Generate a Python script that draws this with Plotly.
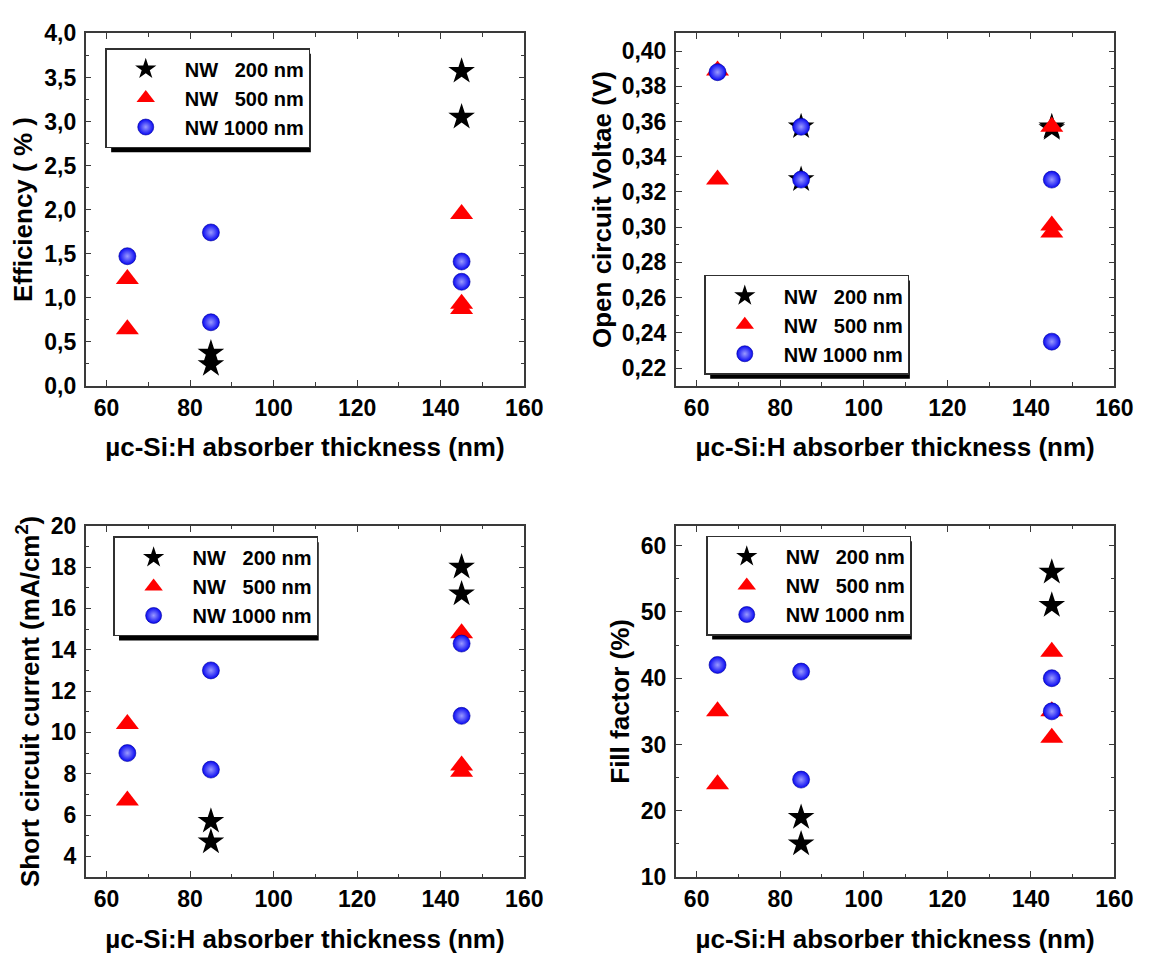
import plotly.graph_objects as go

# ---------------- data ----------------
series_names = ["NW\u00a0\u00a0\u00a0200 nm", "NW\u00a0\u00a0\u00a0500 nm", "NW 1000 nm"]

thick_200 = [85, 85, 145, 145]
thick_500 = [65, 65, 145, 145, 145]
thick_1000 = [65, 85, 85, 145, 145]

eff_200 = [0.37, 0.24, 3.57, 3.05]
eff_500 = [1.21, 0.64, 1.95, 0.93, 0.87]
eff_1000 = [1.47, 1.74, 0.72, 1.41, 1.18]

voc_200 = [0.357, 0.327, 0.357, 0.356]
voc_500 = [0.389, 0.327, 0.357, 0.301, 0.297]
voc_1000 = [0.388, 0.357, 0.327, 0.327, 0.235]

jsc_200 = [5.7, 4.7, 18.0, 16.7]
jsc_500 = [10.4, 6.7, 14.8, 8.4, 8.1]
jsc_1000 = [9.0, 13.0, 8.2, 14.3, 10.8]

ff_200 = [19, 15, 56, 51]
ff_500 = [35, 24, 44, 35, 31]
ff_1000 = [42, 41, 24.7, 40, 35]

x_title = "µc-Si:H absorber thickness (nm)"
y_titles = ["Efficiency ( % )", "Open circuit Voltae (V)",
            "Short circuit current (mA/cm<sup>2</sup>)", "Fill factor (%)"]

# ---------------- layout helpers ----------------
W, H = 1161, 963
FONT = "Liberation Sans, Arial, sans-serif"


def fx(p):
    return p / W


def fy(p):
    return 1 - p / H


col_dom = [[fx(87), fx(533)], [fx(687), fx(1133)]]
row_dom = [[fy(383), fy(21)], [fy(888), fy(527)]]

panels = [
    dict(data=(eff_200, eff_500, eff_1000), rng=[0, 4.0], dtick=0.5, minor=0.25, fmt=".1f",
         col=0, row=0, legpos=(107, 36), standoff=4),
    dict(data=(voc_200, voc_500, voc_1000), rng=[0.21, 0.41], dtick=0.02, minor=0.01, fmt=".2f",
         col=1, row=0, legpos=(716, 269), standoff=3),
    dict(data=(jsc_200, jsc_500, jsc_1000), rng=[3, 20], dtick=2, minor=1, fmt="d",
         col=0, row=1, legpos=(115, 538), standoff=4),
    dict(data=(ff_200, ff_500, ff_1000), rng=[10, 63], dtick=10, minor=5, fmt="d",
         col=1, row=1, legpos=(718, 537), standoff=4),
]

LEG_FONT = 20
ITEMW = 68
LEG_W = 203   # expected rendered legend width (px)
LEG_H = 101   # expected rendered legend height (px)

thicks = (thick_200, thick_500, thick_1000)
markers = [
    dict(symbol="star", color="black", size=20, line=dict(width=0)),
    dict(symbol="triangle-up", color="#ff0000", size=20, line=dict(width=0)),
    dict(symbol="circle", color="#0808f2", size=17, line=dict(width=0.6, color="#00009a"),
         gradient=dict(type="radial", color="#9a9aff")),
]

fig = go.Figure()
shapes = []
layout = {}
axis_line = "#3a3a3a"

for i, p in enumerate(panels):
    n = "" if i == 0 else str(i + 1)
    leg = "legend" + n
    for k in range(3):
        fig.add_trace(go.Scatter(
            x=thicks[k], y=p["data"][k], mode="markers", name=series_names[k],
            marker=markers[k], xaxis="x" + n, yaxis="y" + n, legend=leg,
            showlegend=True,
        ))
    common = dict(showline=True, linecolor=axis_line, linewidth=1.5, mirror="allticks",
                  ticks="inside", ticklen=6, tickwidth=1.3, tickcolor=axis_line,
                  showgrid=False, zeroline=False)
    layout["xaxis" + n] = dict(
        common, domain=col_dom[p["col"]], anchor="y" + n, range=[55, 160],
        tick0=0, dtick=20,
        minor=dict(ticks="inside", ticklen=3.5, dtick=10, tick0=0, tickcolor=axis_line, tickwidth=1.1),
        tickfont=dict(family=FONT, size=23, color="black", weight="bold"),
        ticklabelstandoff=1,
        title=dict(text=x_title, standoff=18,
                   font=dict(family=FONT, size=26, color="black", weight="bold")),
    )
    layout["yaxis" + n] = dict(
        common, domain=row_dom[p["row"]], anchor="x" + n, range=p["rng"],
        tick0=0, dtick=p["dtick"], tickformat=p["fmt"],
        minor=dict(ticks="inside", ticklen=3.5, dtick=p["minor"], tick0=0, tickcolor=axis_line, tickwidth=1.1),
        tickfont=dict(family=FONT, size=23, color="black", weight="bold"),
        ticklabelstandoff=3,
        title=dict(text=y_titles[i], standoff=p["standoff"],
                   font=dict(family=FONT, size=26, color="black", weight="bold")),
    )
    l, t = p["legpos"]
    layout[leg] = dict(
        x=fx(l), y=fy(t), xanchor="left", yanchor="top", xref="paper", yref="paper",
        bgcolor="white", bordercolor="#303030", borderwidth=1.5,
        font=dict(family=FONT, size=LEG_FONT, color="black", weight="bold"),
        itemwidth=ITEMW, tracegroupgap=0,
    )
    off = 6
    shapes.append(dict(type="rect", xref="paper", yref="paper",
                       x0=fx(l + off), x1=fx(l + LEG_W + off),
                       y0=fy(t + LEG_H + off), y1=fy(t + off),
                       fillcolor="black", line=dict(width=0), layer="above"))

fig.update_layout(
    width=W, height=H, margin=dict(l=0, r=0, t=0, b=0),
    paper_bgcolor="white", plot_bgcolor="white",
    separators=",.",
    font=dict(family=FONT, color="black"),
    shapes=shapes,
    **layout,
)

fig.write_html("out.html", config={"displayModeBar": False},
               post_script="document.body.style.margin='0px';document.body.style.overflow='hidden';")
